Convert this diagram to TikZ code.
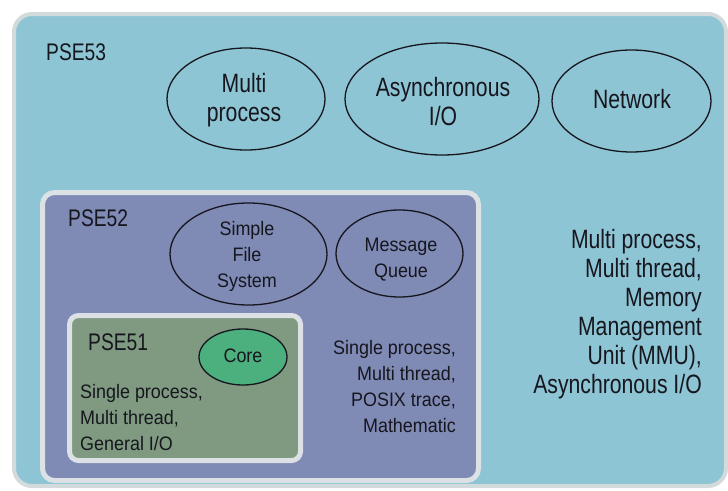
\documentclass[tikz,border=0pt]{standalone}
\usepackage{fontspec}
\setmainfont{Liberation Sans}
\newfontfamily\bigface[FakeStretch=0.8]{Liberation Sans}
\newfontfamily\smallface[FakeStretch=0.92]{Liberation Sans}
\usetikzlibrary{shapes.geometric}

\definecolor{sky}{HTML}{8EC5D4}
\definecolor{slate}{HTML}{7F8AB5}
\definecolor{sage}{HTML}{7F9A80}
\definecolor{mint}{HTML}{4CAF7E}
\definecolor{rim}{HTML}{D3DADC}
\definecolor{rimlight}{HTML}{DCE1E6}
\definecolor{ink}{HTML}{16161E}

\begin{document}
\begin{tikzpicture}[x=1pt,y=-1pt,
  bubble/.style={ellipse, draw=ink, line width=1.3pt, inner sep=0pt},
  heading/.style={font=\bigface\fontsize{24}{28}\selectfont, text=ink, inner sep=0pt, anchor=base west},
  bigtext/.style={font=\bigface\fontsize{26.5}{29}\selectfont, text=ink, inner sep=0pt},
  smalltext/.style={font=\smallface\fontsize{19.5}{26}\selectfont, text=ink, inner sep=0pt},
  layer/.style={line width=5pt}]

\useasboundingbox (0,0) rectangle (728,490);
\fill[white] (0,0) rectangle (728,490);

% PSE53 layer (multi-line labels are anchored on their last baseline)
\draw[draw=rim, fill=sky, line width=4pt, rounded corners=18pt] (14,14) rectangle (726,486);
\node[heading] (pse53) at (46,60) {PSE53};

\node[bubble, minimum width=158pt, minimum height=102pt] (mp) at (246,99) {};
\node[bigtext, align=center, anchor=base] (mpt) at (244,121) {Multi\\process};
\node[bubble, minimum width=194pt, minimum height=112pt] (aio) at (442,99) {};
\node[bigtext, align=center, anchor=base] (aiot) at (443,125.5) {Asynchronous\\I/O};
\node[bubble, minimum width=159pt, minimum height=102pt] (net) at (631.5,101) {};
\node[bigtext, anchor=base] (nett) at (632,108) {Network};

\node[bigtext, align=right, anchor=base east] (f53) at (702,393)
  {Multi process,\\Multi thread,\\Memory\\Management\\Unit (MMU),\\Asynchronous I/O};

% PSE52 layer
\draw[draw=rimlight, fill=slate, layer, rounded corners=12pt] (42.5,192.5) rectangle (478.5,480.5);
\node[heading] (pse52) at (68,226) {PSE52};

\node[bubble, minimum width=157pt, minimum height=102pt] (sfs) at (248.5,254) {};
\node[smalltext, align=center, anchor=base] (sfst) at (247,287) {Simple\\File\\System};
\node[bubble, minimum width=127pt, minimum height=87pt] (mq) at (399.5,253.5) {};
\node[smalltext, align=center, anchor=base] (mqt) at (401,277.5) {Message\\Queue};

\node[smalltext, align=right, anchor=base east] (f52) at (456,432)
  {Single process,\\Multi thread,\\POSIX trace,\\Mathematic};

% PSE51 layer
\draw[draw=rimlight, fill=sage, layer, rounded corners=9pt] (69.5,315.5) rectangle (300.5,460.5);
\node[heading] (pse51) at (88,350) {PSE51};

\node[bubble, fill=mint, minimum width=88pt, minimum height=56pt] (core) at (243,357) {};
\node[smalltext, anchor=base] (coret) at (243,362) {Core};

\node[smalltext, align=left, anchor=base west] (f51) at (80,450)
  {Single process,\\Multi thread,\\General I/O};

\end{tikzpicture}
\end{document}
